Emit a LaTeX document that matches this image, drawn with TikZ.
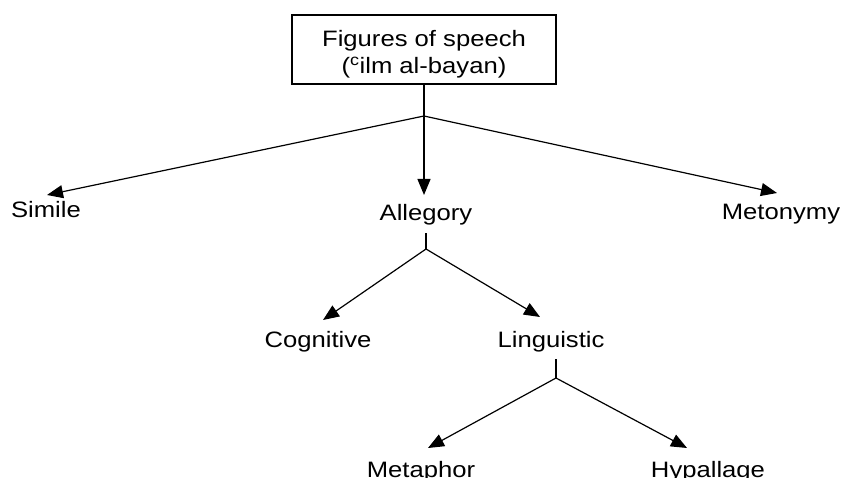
\documentclass[tikz,border=0pt]{standalone}
\usepackage{fontspec}
\setmainfont[FakeStretch=1.15]{Liberation Sans}
\usetikzlibrary{arrows.meta}
\begin{document}
\begin{tikzpicture}[x=1pt,y=-1pt,
  txt/.style={font=\fontsize{22.3}{27}\selectfont},
  lbl/.style={txt, inner sep=0pt, anchor=base},
  conn/.style={line width=1.2pt},
  arr/.style={conn, -{Triangle[length=16pt,width=13pt]}}]
\useasboundingbox (0,0) rectangle (842,478);
\node[txt, draw, line width=1.2pt, minimum width=264pt, minimum height=69pt, inner sep=0pt, align=center] (root) at (424,49.5) {\rule{0pt}{25pt}Figures of speech\\(\textsuperscript{c}ilm al-bayan)};
\node[lbl] (simile) at (46,218) {Simile};
\node[lbl] (allegory) at (426,220) {Allegory};
\node[lbl] (metonymy) at (781,219) {Metonymy};
\node[lbl] (cognitive) at (318,347) {Cognitive};
\node[lbl] (linguistic) at (551,347) {Linguistic};
\node[lbl] (metaphor) at (421,477) {Metaphor};
\node[lbl] (hypallage) at (708,477) {Hypallage};
% junctions and tips
\coordinate (j1) at (424,116);
\coordinate (tS) at (47,195);
\coordinate (tA) at (424,195);
\coordinate (tM) at (777,193);
\coordinate (s2) at (426,233);
\coordinate (j2) at (426,249);
\coordinate (tC) at (323,320);
\coordinate (tL) at (540,317);
\coordinate (s3) at (556,359);
\coordinate (j3) at (556,378);
\coordinate (tMe) at (428,448);
\coordinate (tH) at (687,448);
\draw[conn] (root.south) -- (j1);
\draw[arr] (j1) -- (tS);
\draw[arr] (j1) -- (tA);
\draw[arr] (j1) -- (tM);
\draw[conn] (s2) -- (j2);
\draw[arr] (j2) -- (tC);
\draw[arr] (j2) -- (tL);
\draw[conn] (s3) -- (j3);
\draw[arr] (j3) -- (tMe);
\draw[arr] (j3) -- (tH);
\end{tikzpicture}
\end{document}
